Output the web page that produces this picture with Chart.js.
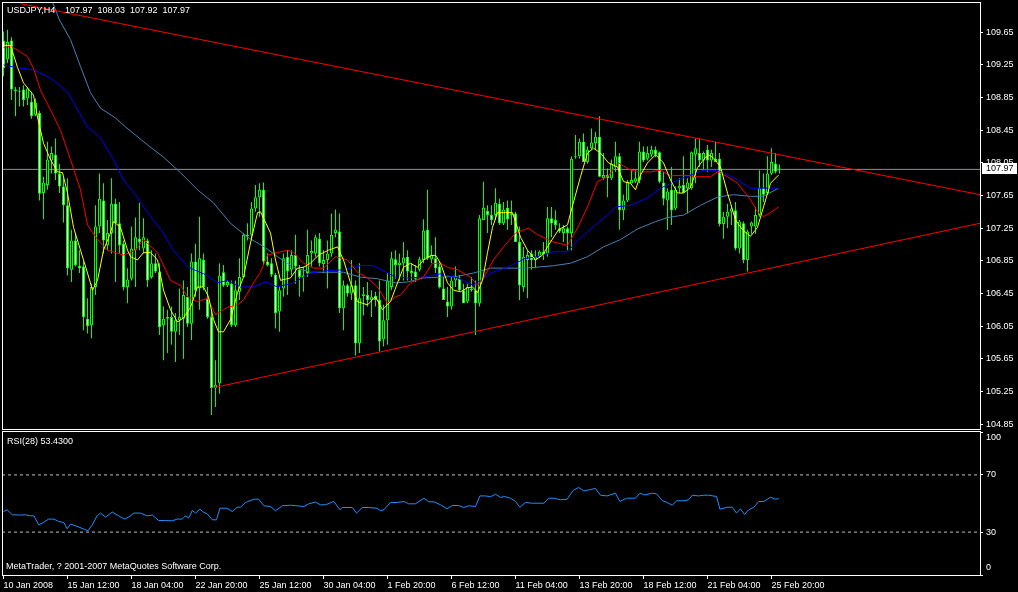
<!DOCTYPE html>
<html>
<head>
<meta charset="utf-8">
<script src="https://cdn.jsdelivr.net/npm/chart.js@4.4.0/dist/chart.umd.min.js"></script>
<style>
  html, body { margin: 0; padding: 0; background: #000; }
  body { width: 1018px; height: 592px; position: relative; overflow: hidden; }
  #wrapMain { position: absolute; left: 0; top: 0; width: 1018px; height: 430px; }
  #wrapRsi { position: absolute; left: 0; top: 430px; width: 1018px; height: 162px; }
</style>
</head>
<body>
<div id="wrapMain"><canvas id="main"></canvas></div>
<div id="wrapRsi"><canvas id="rsi"></canvas></div>
<script>
// USDJPY H4 candles, bar 0 = 10 Jan 2008 20:00
const open = [109.55,109.32,109.55,108.95,108.93,108.95,108.84,108.80,108.64,108.66,
  107.68,107.78,108.08,108.15,107.92,107.76,107.53,106.74,107.10,106.79,
  106.78,106.14,106.06,106.53,107.27,107.59,107.04,107.19,107.55,107.31,
  107.06,106.53,106.63,106.98,107.12,107.00,107.10,106.65,106.82,106.72,
  106.06,106.14,106.16,105.98,106.12,106.14,106.41,106.08,106.84,106.51,
  106.86,106.39,106.16,105.29,105.35,106.71,106.55,106.57,106.06,106.47,
  106.65,107.17,107.17,107.49,107.63,107.72,106.84,106.82,106.68,106.23,
  106.51,106.90,106.74,106.92,106.74,106.65,106.70,106.94,106.94,107.12,
  106.81,106.86,106.94,107.19,107.21,106.27,106.55,106.45,106.55,105.84,
  106.42,106.43,106.37,106.42,106.37,105.89,106.12,106.53,106.87,106.80,
  106.82,106.90,106.73,106.72,106.74,106.86,107.23,106.87,106.88,106.78,
  106.51,106.35,106.29,106.61,106.63,106.49,106.35,106.51,106.49,106.33,
  107.35,107.46,107.41,107.41,107.55,107.31,107.50,107.41,107.43,107.08,
  106.53,106.86,106.94,106.86,106.90,106.96,106.94,107.37,107.35,107.25,
  107.19,107.25,107.19,108.12,108.13,108.31,108.06,108.23,108.29,108.37,
  107.86,107.90,107.86,108.00,108.13,107.47,107.59,107.80,107.82,107.84,
  108.19,108.10,108.15,108.21,108.18,107.81,107.59,107.72,107.49,107.74,
  107.78,107.74,107.74,108.15,108.17,108.08,108.21,108.08,108.10,108.10,
  107.30,107.39,107.45,107.47,107.00,107.31,106.86,107.27,107.27,107.41,
  107.74,107.68,107.92,108.04,107.97];
const high = [109.66,109.68,109.59,108.98,108.98,109.00,108.98,108.92,108.84,108.69,
  107.88,108.31,108.25,108.35,108.04,107.86,107.86,107.23,107.19,106.98,
  106.84,106.39,106.57,107.53,107.92,107.80,107.35,107.86,107.61,107.57,
  107.10,106.76,107.27,107.38,107.56,107.37,107.12,106.98,106.94,106.82,
  106.29,106.25,106.29,106.21,106.51,106.61,106.53,106.94,107.06,107.39,
  106.94,106.53,106.25,105.63,106.82,106.80,106.61,106.61,106.61,106.88,
  107.19,107.31,107.57,107.78,107.80,107.81,106.94,106.88,106.70,106.53,
  106.94,106.98,106.98,107.17,106.80,106.78,107.23,107.10,107.17,107.19,
  106.98,107.10,107.43,107.48,107.43,106.61,106.57,106.86,106.61,106.82,
  106.53,106.59,106.49,106.47,106.61,106.31,106.70,106.96,106.98,106.94,
  107.08,106.98,106.82,106.80,106.90,107.36,107.72,107.04,107.14,106.84,
  106.65,106.53,106.65,106.78,106.67,106.57,106.57,106.65,106.61,107.41,
  107.82,107.53,107.53,107.74,107.61,107.57,107.59,107.59,107.45,107.27,
  107.02,106.98,106.98,106.98,106.98,107.08,107.51,107.51,107.47,107.31,
  107.29,107.27,108.13,108.39,108.35,108.41,108.25,108.47,108.43,108.62,
  108.17,107.98,108.09,108.31,108.17,107.66,107.84,107.96,107.96,108.31,
  108.25,108.25,108.26,108.25,108.19,107.94,107.74,108.00,107.76,107.86,
  108.13,107.86,108.19,108.35,108.35,108.19,108.27,108.21,108.31,108.17,
  107.45,107.55,107.53,107.57,107.35,107.33,107.23,107.33,107.51,107.96,
  107.92,108.13,108.23,108.17,108.03];
const low = [109.11,109.27,108.82,108.62,108.74,108.74,108.76,108.59,108.62,107.59,
  107.36,107.72,107.92,107.84,107.68,107.32,106.67,106.59,106.78,106.70,
  106.00,105.96,105.90,106.43,107.19,106.94,106.98,106.94,106.59,106.94,
  106.49,106.33,106.61,106.53,106.98,106.94,106.53,106.63,106.70,105.94,
  105.63,105.72,105.82,105.61,105.94,105.65,106.04,105.88,106.41,106.25,
  106.49,106.14,104.96,105.06,105.22,106.53,106.53,106.04,106.04,106.37,
  106.65,107.10,107.10,107.45,107.39,106.80,106.78,106.65,106.02,105.98,
  106.41,106.43,106.67,106.57,106.41,106.47,106.65,106.78,106.90,106.78,
  106.70,106.51,106.90,107.14,106.21,106.00,106.41,106.37,105.69,105.72,
  106.18,106.29,106.16,106.29,105.74,105.80,105.82,106.49,106.63,106.61,
  106.61,106.61,106.61,106.59,106.72,106.82,106.86,106.82,106.70,106.51,
  106.37,106.16,106.25,106.53,106.47,106.33,106.33,106.47,105.94,106.29,
  107.35,107.19,107.29,107.35,107.29,107.29,107.23,107.29,107.10,106.37,
  106.47,106.39,106.74,106.76,106.88,106.86,106.90,107.14,107.23,107.19,
  107.08,106.98,106.98,108.10,108.10,108.06,108.04,108.21,108.21,107.88,
  107.84,107.63,107.84,107.94,107.23,107.35,107.57,107.80,107.80,107.80,
  108.06,108.08,108.12,108.12,107.80,107.53,107.23,107.29,107.47,107.68,
  107.68,107.43,107.72,107.80,108.00,107.96,107.94,108.00,108.06,107.27,
  107.12,107.25,107.29,106.98,106.94,106.82,106.72,107.18,107.18,107.39,
  107.57,107.66,107.90,107.92,107.92];
const close = [109.21,109.53,108.95,108.93,108.92,108.82,108.96,108.62,108.79,107.67,
  107.81,108.09,108.17,107.92,107.76,107.53,106.76,107.10,106.80,106.76,
  106.16,106.05,106.53,107.27,107.61,107.10,107.19,107.55,107.31,107.04,
  106.53,106.62,107.00,107.14,107.08,107.14,106.61,106.82,106.72,106.04,
  106.14,106.16,105.98,106.12,106.16,106.43,106.08,106.84,106.49,106.88,
  106.53,106.16,105.29,105.33,106.67,106.55,106.59,106.06,106.49,106.65,
  107.17,107.15,107.49,107.63,107.72,106.84,106.80,106.68,106.21,106.49,
  106.88,106.72,106.92,106.78,106.65,106.67,106.92,106.97,107.14,106.82,
  106.86,106.94,107.17,107.23,106.27,106.55,106.45,106.55,105.84,106.39,
  106.44,106.37,106.41,106.37,105.86,106.12,106.61,106.88,106.80,106.83,
  106.89,106.72,106.70,106.63,106.87,107.22,106.88,106.92,106.76,106.53,
  106.37,106.29,106.61,106.65,106.49,106.33,106.53,106.49,106.33,107.37,
  107.50,107.41,107.35,107.56,107.31,107.48,107.36,107.43,107.08,106.55,
  106.90,106.92,106.86,106.90,106.96,106.92,107.37,107.31,107.29,107.21,
  107.25,107.19,108.10,108.13,108.31,108.06,108.21,108.30,108.37,107.88,
  107.90,107.86,108.04,108.13,107.47,107.59,107.82,107.84,107.86,108.19,
  108.08,108.17,108.21,108.15,107.82,107.61,107.70,107.47,107.72,107.77,
  107.68,107.81,108.18,108.23,108.08,108.17,108.08,108.17,108.06,107.30,
  107.39,107.45,107.49,107.00,107.33,106.86,107.21,107.32,107.41,107.74,
  107.66,107.92,108.06,107.94,107.97];

// moving averages (bar position, price)
const yellowBar = [0,1.75,3.5,5,7.5,8.5,10,11.75,13.5,14.75,16,17.5,19.25,21,22.25,23.5,25,26.75,27.5,29.25,
  31,31.75,33.5,35,36.75,38.5,40,41.75,43.5,45,46.75,48.5,50,51.25,52.5,53.75,55,56.75,58.5,60,
  61.75,63.5,64.25,66.75,68,69.25,71.75,73.5,75,76.75,78.75,81.25,83.5,85,86.75,88.5,91,93,94.75,96.75,
  98.5,100,101.75,103.5,105,106.75,108,109.25,111,112.5,114.25,116,117.25,118.5,119.75,121,122.25,123.5,125.5,127.25,
  129.25,131,133,134.75,136.75,138.75,141,142.5,144.25,146,147.5,149.25,151.25,153.5,155,156.75,158,159.25,161,163,
  165,166.75,168.5,170,171.75,173.5,175,176.25,177.5,179.25,181,183,184.75,186.75,188.5,190,191.75,193.75];
const yellowPrice = [109.49,109.49,109.22,109.03,108.88,108.61,108.29,108.09,107.94,107.93,107.68,107.26,106.98,106.70,106.49,106.61,106.98,107.19,107.33,107.26,
  106.98,106.90,106.86,106.95,106.95,106.86,106.49,106.25,106.10,106.15,106.28,106.53,106.53,106.41,106.13,105.98,105.98,106.13,106.46,106.65,
  107.07,107.44,107.45,107.19,106.86,106.61,106.64,106.76,106.77,106.82,106.92,106.98,107.02,106.86,106.58,106.35,106.31,106.41,106.25,106.35,
  106.58,106.77,106.82,106.77,106.86,106.91,106.92,106.82,106.58,106.49,106.47,106.52,106.53,106.46,106.61,106.95,107.26,107.44,107.44,107.44,
  107.14,106.98,106.86,106.92,107.08,107.23,107.29,107.57,107.88,108.17,108.23,108.17,108.05,108.00,107.82,107.80,107.72,107.90,108.05,108.15,
  108.05,107.84,107.68,107.68,107.75,107.99,108.09,108.15,108.11,108.00,107.68,107.35,107.23,107.15,107.26,107.51,107.80,107.90];

const redBar = [0,1.75,4.25,6,7.5,9.25,11.75,14.25,16.75,19.25,21,23.5,26,28,30,33,35,38.5,41.75,44.25,
  46,48.5,51,53,56,58.5,60,62.5,64.25,66,68.5,71,72.5,75,77.5,80,83,86,88.5,91,
  93.5,96,98,99.25,101.75,105,107.25,109.25,111,113.5,116.75,118.5,120,122.5,125,128,131.25,133.5,137.5,141,
  143.5,146,148.5,151,153.75,156.75,159.25,161.75,164.25,166.75,170,173.5,176.75,178.5,181,183.5,186.75,188.5,190,191.75,193.75];
const redPrice = [109.46,109.48,109.41,109.35,109.21,108.94,108.70,108.45,108.09,107.72,107.29,107.11,106.98,106.95,106.92,106.98,107.11,106.95,106.61,106.55,
  106.41,106.35,106.39,106.19,106.28,106.31,106.37,106.58,106.71,106.92,106.95,106.98,106.95,106.82,106.76,106.76,106.90,106.86,106.71,106.64,
  106.53,106.33,106.41,106.43,106.58,106.65,106.82,106.82,106.77,106.74,106.65,106.55,106.64,106.86,107.02,107.19,107.25,107.17,107.08,107.04,
  107.25,107.51,107.82,107.88,108.05,107.96,107.94,107.94,107.96,107.89,107.90,107.88,107.88,107.94,107.88,107.80,107.60,107.45,107.39,107.44,107.51];

const blueBar = [0,4.25,7.5,11.75,16,21,24.25,27.5,30,33,36,40,42.25,46.25,50.5,53.5,56,59.25,62.5,65.5,
  68.5,72.5,76.75,81,85,89.25,92.5,98,101,105,109.25,113.5,117.5,119.25,121.75,126,130.5,133.5,137.5,141,
  143.75,148,151,153,156.75,161,164.25,170,175,178.5,182.5,186.75,190,193.75];
const bluePrice = [109.25,109.21,109.19,109.09,108.92,108.49,108.36,108.09,107.84,107.66,107.44,107.19,106.99,106.77,106.68,106.58,106.61,106.53,106.53,106.59,
  106.53,106.58,106.70,106.73,106.74,106.79,106.79,106.65,106.64,106.65,106.69,106.64,106.55,106.61,106.70,106.77,106.88,106.90,106.96,106.96,
  107.11,107.29,107.41,107.51,107.53,107.62,107.74,107.87,107.96,107.96,107.87,107.74,107.74,107.74];

const steelBar = [10,14,16.75,19.25,21.75,24.25,28,30.5,33,36,40,44.25,48.5,52.5,56.75,61,65.5,68.5,72.5,76.75,
  81,85,89.25,93.5,98,101,105,109.25,113.5,117.5,121.75,126,130.5,137.5,141.75,146,150,154.25,158.5,163,
  166,170,174.25,178.5,182.5,186.75,190,193.75];
const steelPrice = [110.30,109.80,109.56,109.23,108.91,108.72,108.60,108.49,108.39,108.27,108.12,107.93,107.72,107.56,107.31,107.14,107.01,106.90,106.77,106.71,
  106.71,106.71,106.65,106.63,106.58,106.59,106.64,106.65,106.66,106.70,106.76,106.76,106.76,106.79,106.82,106.90,107.02,107.11,107.24,107.33,
  107.38,107.41,107.53,107.63,107.66,107.64,107.64,107.74];

// trend lines: [start bar, start price, end bar, end price]
const upperTrend = [4.25, 110.00, 244.125, 107.66];
const lowerTrend = [52, 105.29, 244.125, 107.31];

const priceTicks = [109.65,109.25,108.85,108.45,108.05,107.65,107.25,106.85,106.45,106.05,105.65,105.25,104.85];

// RSI(28)
const rsiBar = [0,0.9,2.2,4.25,5.5,6.75,7.6,8.8,9.7,11.3,12.6,13.8,15.1,15.9,16.75,18.4,20.1,21.1,22.2,23.4,
  24.25,25.5,27.2,28.8,30.25,31.3,32.6,34.25,35.9,37.2,38.8,40.5,42.2,43.4,44.7,45.5,46.3,47.2,48,49.1,
  50.1,50.9,52.2,53.25,54.1,55.9,57.2,58.4,59.25,60.5,62.6,63.8,65.1,66.75,68,69.7,71.75,73.4,75.1,76.3,
  78,79.25,80.5,82.6,84.1,84.7,87.2,88.25,89.7,91.3,93.4,94.25,95.1,96.75,98.4,100.1,101.3,103,105.1,106.3,
  107.6,109.25,110.9,112.2,113.8,115.1,116.3,118,119.1,120.5,121.75,123,124.25,125.25,126.75,128,129.1,130.5,132.2,135.1,
  136.3,137.6,139.25,140.9,142.4,143.8,145.1,146.3,148,149.25,150.9,153,154.1,155.75,158,159.1,160.25,162.2,163.25,164.75,
  165.9,167.2,168.25,170.1,171.3,172.2,173.8,175.1,176.3,178.25,179.1,180.9,182.2,183.25,184.25,185.25,186.3,187.6,188.8,190.1,
  191.75,193,193.8];
const rsiValue = [44.4,45.6,42.1,41.9,42.1,41.4,41.4,35.1,36.3,39.1,39.1,37.4,36.7,32.3,35.6,34.0,32.1,30.9,35.1,41.4,
  43.3,40.5,44.0,41.4,39.1,40.5,43.3,43.3,41.4,41.9,38.1,38.1,37.9,39.1,39.1,41.4,39.8,45.1,43.3,46.0,
  43.7,42.8,38.6,38.6,46.7,46.7,44.4,47.4,47.4,50.7,53.0,53.0,48.4,47.9,44.9,48.4,48.8,48.4,47.9,49.8,
  50.9,49.1,49.1,51.4,45.6,47.2,47.2,43.3,47.2,47.2,46.7,44.9,45.6,50.7,50.7,51.4,49.8,49.8,53.7,51.2,
  51.2,49.1,46.3,48.6,48.6,47.2,48.4,47.9,55.3,55.3,54.7,56.5,54.2,54.9,53.7,51.4,47.4,50.7,50.2,50.2,
  53.7,53.7,52.6,53.0,59.1,61.2,58.8,59.5,60.5,55.8,55.3,57.2,51.4,53.7,53.7,57.2,56.0,57.2,56.7,51.9,
  50.7,48.8,51.9,51.9,52.6,55.8,55.3,55.8,55.8,54.9,46.0,47.4,47.4,43.3,46.3,42.3,45.6,47.4,51.4,51.4,
  54.4,53.0,53.43];
const rsiLevels = [70, 30];
const rsiTicks = [100, 70, 30, 0];

const timeTickBars = [0,16,32,48,64,80,96,112,128,144,160,176,192];
const timeTickLabels = ['10 Jan 2008','15 Jan 12:00','18 Jan 04:00','22 Jan 20:00','25 Jan 12:00','30 Jan 04:00',
  '1 Feb 20:00','6 Feb 12:00','11 Feb 04:00','13 Feb 20:00','18 Feb 12:00','21 Feb 04:00','25 Feb 20:00'];

const symbol = 'USDJPY,H4';
const FONT = '"Liberation Sans", Arial, sans-serif';
const X_MIN = -0.375, X_MAX = 244.125;

function pts(xs, ys) {
  return xs.map((x, i) => ({ x: x, y: ys[i] }));
}
function lineSet(data, color, order) {
  return { type: 'line', data: data, borderColor: color, borderWidth: 1, pointRadius: 0, tension: 0, order: order };
}
// keep the plot area fixed: no extra room for overflowing tick labels
function noPad(s) {
  s.paddingTop = 0; s.paddingBottom = 0; s.paddingLeft = 0; s.paddingRight = 0;
}

const last = close.length - 1;
const wickData = close.map((c, i) => ({ x: i, y: [low[i], high[i]] }));
const bodyData = close.map((c, i) => ({ x: i, y: [open[i], close[i]] }));
const bodyFill = close.map((c, i) => c >= open[i] ? '#000000' : '#ffffff');

const framePlugin = {
  id: 'frame',
  afterDraw(chart) {
    const a = chart.chartArea, ctx = chart.ctx;
    ctx.save();
    ctx.strokeStyle = '#ffffff';
    ctx.lineWidth = 1;
    ctx.strokeRect(a.left + 0.5, a.top + 0.5, a.right - a.left, a.bottom - a.top);
    ctx.restore();
  }
};

const mainTextPlugin = {
  id: 'mainText',
  afterDraw(chart) {
    const ctx = chart.ctx;
    ctx.save();
    ctx.font = '9px ' + FONT;
    ctx.fillStyle = '#ffffff';
    ctx.textBaseline = 'middle';
    ctx.fillText(symbol, 7, 11);
    ctx.fillText([open[last], high[last], low[last], close[last]].map(v => v.toFixed(2)).join('  '), 65, 11);
    // current price box on the axis
    const y = chart.scales.y.getPixelForValue(close[last]);
    ctx.fillRect(982, Math.round(y) - 6, 35, 11);
    ctx.fillStyle = '#000000';
    ctx.fillText(close[last].toFixed(2), 986, Math.round(y) - 0.5);
    ctx.restore();
  }
};

const rsiTextPlugin = {
  id: 'rsiText',
  afterDraw(chart) {
    const ctx = chart.ctx;
    ctx.save();
    ctx.font = '9px ' + FONT;
    ctx.fillStyle = '#ffffff';
    ctx.textBaseline = 'middle';
    ctx.fillText('RSI(28) ' + rsiValue[rsiValue.length - 1].toFixed(4), 7, 12);
    ctx.fillText('MetaTrader, ? 2001-2007 MetaQuotes Software Corp.', 6, 137);
    // the 100 and 0 labels sit inside the panel edges
    ctx.fillText(String(rsiTicks[0]), 986, 8);
    ctx.fillText(String(rsiTicks[rsiTicks.length - 1]), 986, 138);
    ctx.restore();
  }
};

new Chart(document.getElementById('main'), {
  type: 'bar',
  data: {
    datasets: [
      lineSet(pts([upperTrend[0], upperTrend[2]], [upperTrend[1], upperTrend[3]]), '#ff0000', 0),
      lineSet(pts([lowerTrend[0], lowerTrend[2]], [lowerTrend[1], lowerTrend[3]]), '#ff0000', 0),
      lineSet(pts(yellowBar, yellowPrice), '#ffff00', 1),
      lineSet(pts(redBar, redPrice), '#ff0000', 2),
      lineSet(pts(blueBar, bluePrice), '#0000ff', 3),
      lineSet(pts(steelBar, steelPrice), '#4682b4', 4),
      {
        data: bodyData, backgroundColor: bodyFill, borderColor: '#00ff00', borderWidth: 1,
        borderSkipped: false, barThickness: 3, grouped: false, minBarLength: 1, inflateAmount: 0, order: 5
      },
      {
        data: wickData, backgroundColor: '#00ff00', borderWidth: 0,
        barThickness: 1, grouped: false, inflateAmount: 0, order: 6
      },
      lineSet([{ x: X_MIN, y: close[last] }, { x: X_MAX, y: close[last] }], '#8a9096', 7)
    ]
  },
  options: {
    animation: false,
    responsive: true,
    maintainAspectRatio: false,
    layout: { padding: { left: 2, top: 2, right: 0, bottom: 1 }, autoPadding: false },
    plugins: { legend: { display: false }, tooltip: { enabled: false } },
    scales: {
      x: { type: 'linear', min: X_MIN, max: X_MAX, offset: false, display: false },
      y: {
        position: 'right',
        min: 104.789,
        max: 110.021,
        afterBuildTicks: (s) => { s.ticks = priceTicks.map(v => ({ value: v })); },
        afterFit: (s) => { s.width = 38; noPad(s); },
        grid: { drawOnChartArea: false, color: '#ffffff', tickLength: 3 },
        border: { display: false },
        ticks: {
          color: '#ffffff', padding: 3, autoSkip: false,
          font: { family: FONT, size: 9 },
          callback: (v) => Number(v).toFixed(2)
        }
      }
    }
  },
  plugins: [framePlugin, mainTextPlugin]
});

new Chart(document.getElementById('rsi'), {
  type: 'line',
  data: {
    datasets: [
      lineSet(pts(rsiBar, rsiValue), '#1e90ff', 0),
      ...rsiLevels.map(v => Object.assign(lineSet([{ x: X_MIN, y: v }, { x: X_MAX, y: v }], '#c0c0c0', 1), { borderDash: [3, 3] }))
    ]
  },
  options: {
    animation: false,
    responsive: true,
    maintainAspectRatio: false,
    layout: { padding: { left: 2, top: 1, right: 0, bottom: 0 }, autoPadding: false },
    plugins: { legend: { display: false }, tooltip: { enabled: false } },
    scales: {
      x: {
        type: 'linear', min: X_MIN, max: X_MAX, offset: false,
        afterBuildTicks: (s) => { s.ticks = timeTickBars.map(v => ({ value: v })); },
        afterFit: (s) => { s.height = 17; noPad(s); },
        grid: { drawOnChartArea: false, color: '#ffffff', tickLength: 4 },
        border: { display: false },
        ticks: {
          color: '#ffffff', align: 'start', padding: 1, maxRotation: 0, autoSkip: false,
          font: { family: FONT, size: 9 },
          callback: (v) => timeTickLabels[timeTickBars.indexOf(v)]
        }
      },
      y: {
        position: 'right', min: 0, max: 100.7,
        afterBuildTicks: (s) => { s.ticks = rsiTicks.map(v => ({ value: v })); },
        afterFit: (s) => { s.width = 38; noPad(s); },
        grid: { drawOnChartArea: false, color: '#ffffff', tickLength: 3 },
        border: { display: false },
        ticks: {
          color: '#ffffff', padding: 3, autoSkip: false, font: { family: FONT, size: 9 },
          callback: (v) => (v === rsiTicks[0] || v === rsiTicks[rsiTicks.length - 1]) ? '' : String(v)
        }
      }
    }
  },
  plugins: [framePlugin, rsiTextPlugin]
});
</script>
</body>
</html>
